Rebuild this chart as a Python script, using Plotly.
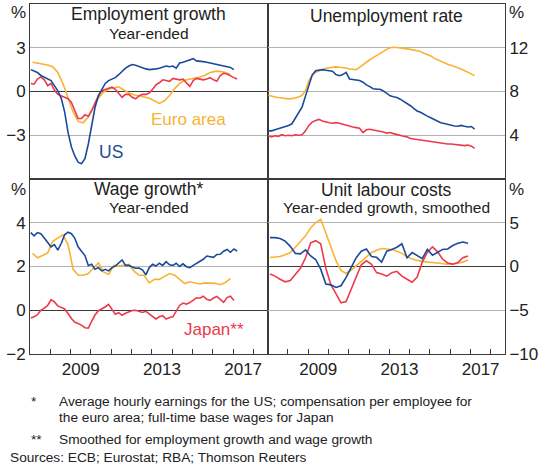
import pandas as pd
import plotly.graph_objects as go
from plotly.subplots import make_subplots

BLUE = "#1B4A9B"
ORANGE = "#F9B233"
RED = "#EC3A4C"
GRID = "#b4b4b4"
FRAME = "#3a3a3a"
FONT = "Liberation Sans, Arial, sans-serif"

# ---------------- data ----------------
# Employment growth, year-ended (%)
emp_us = [1.5, 1.4, 1.3, 1.1, 1.0, 0.9, 0.75, 0.4, 0.05, -0.45, -1.4, -2.8, -3.8, -4.4, -4.85,
          -4.95, -4.6, -3.6, -2.3, -1.1, -0.3, 0.15, 0.55, 0.75, 0.85, 0.95, 1.15, 1.4, 1.6, 1.75,
          1.85, 1.8, 1.7, 1.6, 1.55, 1.5, 1.5, 1.55, 1.6, 1.7, 1.75, 1.7, 1.75, 1.6, 1.95, 2.0,
          2.1, 2.15, 2.25, 2.1, 2.1, 2.05, 2.0, 1.95, 1.9, 1.9, 1.85, 1.8, 1.7, 1.65, 1.5]
emp_jp = [0.55, 0.5, 0.85, 1.0, 0.8, 0.4, 0.55, 0.1, -0.2, -0.3, -0.4, -0.5, -0.75, -1.35, -1.85,
          -1.85, -1.6, -1.7, -1.3, -0.8, -0.3, 0.05, 0.15, 0.2, 0.3, 0.15, -0.1, -0.4, -0.2, -0.2,
          -0.4, -0.5, -0.3, -0.2, -0.2, -0.1, 0.15, 0.45, 0.6, 0.8, 0.75, 0.7, 0.9, 0.85, 0.8, 0.85,
          0.6, 0.35, 0.75, 0.9, 0.85, 0.8, 0.85, 0.95, 0.8, 0.7, 1.1, 1.25, 1.2, 1.05, 0.95, 0.85]
emp_ea = [2.0, 1.95, 1.9, 1.82, 1.7, 1.3, 0.55, -0.4, -1.4, -2.05, -2.15, -1.75, -1.05, -0.45,
          -0.05, 0.17, 0.25, 0.32, 0.1, -0.1, -0.22, -0.28, -0.38, -0.47, -0.65, -0.82, -0.64,
          -0.28, 0.2, 0.55, 0.78, 0.85, 0.9, 1.0, 1.12, 1.3, 1.38, 1.38, 1.3, 1.17]

# Unemployment rate (%)
un_ea = [7.65, 7.55, 7.5, 7.45, 7.4, 7.35, 7.33, 7.35, 7.4, 7.5, 7.65, 8.1, 9.0, 9.5, 9.75, 9.9,
         10.02, 10.12, 10.18, 10.24, 10.25, 10.22, 10.2, 10.15, 10.05, 10.0, 10.0, 10.2, 10.45,
         10.7, 10.9, 11.1, 11.3, 11.5, 11.65, 11.85, 12.0, 12.05, 12.02, 12.0, 11.95, 11.9, 11.85,
         11.8, 11.7, 11.65, 11.5, 11.4, 11.25, 11.05, 10.9, 10.75, 10.6, 10.5, 10.4, 10.25, 10.17,
         10.05, 9.9, 9.77, 9.6, 9.45]
un_us = [4.4, 4.4, 4.5, 4.6, 4.7, 4.75, 4.9, 5.05, 5.6, 6.1, 6.6, 7.6, 8.6, 9.5, 9.9, 9.95, 10.0,
         9.95, 9.9, 9.85, 9.55, 9.45, 9.55, 9.75, 9.15, 9.1, 9.1, 9.0, 8.85, 8.6, 8.45, 8.25, 8.22,
         8.2, 8.05, 7.85, 7.6, 7.52, 7.45, 7.3, 7.12, 6.95, 6.7, 6.45, 6.22, 6.1, 5.9, 5.75, 5.6,
         5.45, 5.3, 5.15, 5.07, 4.98, 4.9, 4.85, 4.82, 4.9, 4.82, 4.75, 4.8, 4.55]
un_jp = [3.95, 3.85, 3.95, 3.9, 4.05, 3.95, 4.0, 3.95, 4.05, 4.0, 4.05, 4.4, 4.9, 5.2, 5.35, 5.45,
         5.3, 5.2, 5.15, 5.1, 5.15, 5.1, 5.0, 4.95, 4.85, 4.75, 4.7, 4.65, 4.25, 4.5, 4.55, 4.5,
         4.45, 4.4, 4.3, 4.2, 4.25, 4.15, 4.05, 4.0, 3.9, 3.85, 3.7, 3.65, 3.6, 3.6, 3.55, 3.5, 3.4,
         3.38, 3.35, 3.3, 3.25, 3.2, 3.2, 3.15, 3.1, 3.05, 3.05, 3.1, 3.0, 2.8]

# Wage growth, year-ended (%)
wage_us = [3.55, 3.4, 3.55, 3.5, 3.3, 3.1, 2.9, 3.0, 2.75, 3.05, 3.45, 3.57, 3.5, 3.3, 2.9, 2.7,
           2.5, 2.05, 2.1, 1.88, 1.95, 1.8, 1.87, 1.8, 1.95, 2.02, 2.17, 2.3, 2.05, 2.05, 1.98,
           1.92, 1.93, 1.85, 1.62, 1.95, 2.1, 2.02, 2.15, 2.05, 2.22, 2.08, 2.05, 2.15, 2.0, 2.12,
           1.99, 1.95, 2.05, 2.15, 2.22, 2.33, 2.48, 2.45, 2.42, 2.55, 2.56, 2.7, 2.78, 2.65, 2.8,
           2.7]
wage_ea = [2.6, 2.4, 2.5, 2.62, 3.15, 3.3, 3.45, 3.0, 1.87, 1.6, 1.6, 1.68, 1.95, 2.17, 1.75,
           1.64, 2.05, 2.02, 2.05, 2.1, 1.79, 1.6, 1.6, 1.25, 1.41, 1.41, 1.55, 1.68, 1.6, 1.4,
           1.22, 1.3, 1.25, 1.2, 1.25, 1.23, 1.23, 1.17, 1.27, 1.45]
wage_jp = [-0.35, -0.3, -0.2, 0.0, 0.1, 0.22, 0.48, 0.38, 0.2, 0.13, 0.06, -0.15, -0.38, -0.54,
           -0.6, -0.68, -0.8, -0.82, -0.5, -0.22, -0.02, 0.05, 0.15, 0.27, 0.05, -0.18, -0.11,
           -0.23, -0.14, -0.06, -0.01, 0.0, -0.05, -0.1, -0.05, -0.18, -0.28, -0.4, -0.3, -0.25,
           -0.4, -0.33, -0.3, -0.05, 0.22, 0.33, 0.28, 0.35, 0.48, 0.57, 0.55, 0.64, 0.5, 0.45,
           0.56, 0.63, 0.5, 0.36, 0.58, 0.64, 0.45]

# Unit labour costs, year-ended growth, smoothed (%)
ulc_us = [3.3, 3.3, 3.2, 2.9, 2.3, 1.5, 1.45, 1.9, 1.2, 0.8, -0.3, -2.0, -2.1, -2.4, -2.2, -1.25,
          -0.1, 1.0, 1.75, 2.0, 1.15, 1.05, 0.5, 1.75, 1.95, 2.2, 2.6, 1.0, 1.6, 1.2, 0.9, 1.95,
          1.3, 1.6, 1.95, 2.0, 2.4, 2.65, 2.8, 2.65]
ulc_ea = [1.03, 1.05, 1.15, 1.35, 1.6, 2.2, 2.85, 3.5, 4.4, 5.0, 5.4, 3.9, 2.4, 0.7, -0.45, -0.8,
          -0.4, 0.08, 0.65, 1.1, 1.6, 1.85, 2.05, 2.0, 1.98, 1.75, 1.5, 1.12, 0.85, 0.7, 0.58, 0.5,
          0.45, 0.38, 0.3, 0.25, 0.25, 0.35, 0.5, 0.75]
ulc_jp = [-0.85, -1.1, -1.45, -1.75, -1.6, -0.95, -0.2, 1.0, 2.7, 2.95, 2.6, -0.2, -2.1, -3.1,
          -4.15, -4.0, -2.6, -1.2, 0.2, 0.65, 0.25, -0.7, -0.85, -1.1, -0.7, -0.55, -1.1, -1.45,
          -1.8, -1.2, 0.5, 1.6, 2.25, 1.7, 0.85, 0.4, 0.27, 0.45, 1.0, 1.2]

year_ticks = ["2009-07-01", "2013-07-01", "2017-07-01"]
year_labels = ["2009", "2013", "2017"]
year_bounds = [f"{y}-01-01" for y in range(2008, 2019)]


def bimonthly(vals):
    return pd.date_range("2007-01-01", periods=len(vals), freq="2MS") + pd.Timedelta(days=14)


def quarterly(vals):
    return pd.date_range("2007-01-01", periods=len(vals), freq="QS") + pd.Timedelta(days=45)


fig = make_subplots(rows=2, cols=2, horizontal_spacing=0, vertical_spacing=0)

panels = [
    (1, 1, [(emp_ea, quarterly, ORANGE), (emp_jp, bimonthly, RED), (emp_us, bimonthly, BLUE)]),
    (1, 2, [(un_ea, bimonthly, ORANGE), (un_jp, bimonthly, RED), (un_us, bimonthly, BLUE)]),
    (2, 1, [(wage_ea, quarterly, ORANGE), (wage_jp, bimonthly, RED), (wage_us, bimonthly, BLUE)]),
    (2, 2, [(ulc_ea, quarterly, ORANGE), (ulc_jp, quarterly, RED), (ulc_us, quarterly, BLUE)]),
]
for r, c, series in panels:
    for vals, freq, col in series:
        fig.add_trace(go.Scatter(x=freq(vals), y=vals, mode="lines",
                                 line=dict(color=col, width=1.6), showlegend=False,
                                 hoverinfo="skip"), row=r, col=c)

xcommon = dict(type="date", range=["2007-01-01", "2018-09-12"], showline=True, mirror=True,
               linecolor=FRAME, linewidth=1, showgrid=False, zeroline=False, ticks="",
               tickmode="array", tickvals=year_ticks, ticktext=year_labels,
               tickfont=dict(size=17, color="#222", family=FONT))
for r in (1, 2):
    for c in (1, 2):
        xa = dict(xcommon)
        if r == 1:
            xa["showticklabels"] = False
        else:
            xa["minor"] = dict(ticks="inside", tickmode="array", tickvals=year_bounds,
                               ticklen=5, tickcolor=FRAME, tickwidth=1, showgrid=False)
        fig.update_xaxes(row=r, col=c, **xa)

ycommon = dict(showline=True, mirror=True, linecolor=FRAME, linewidth=1, showgrid=True,
               gridcolor=GRID, gridwidth=1, ticks="", zerolinecolor=FRAME, zerolinewidth=1,
               tickfont=dict(size=17, color="#222", family=FONT))
fig.update_yaxes(row=1, col=1, range=[-6, 6], tickvals=[-3, 0, 3], zeroline=True, side="left", **ycommon)
fig.update_yaxes(row=1, col=2, range=[0, 16], tickvals=[4, 8, 12], zeroline=False, side="right", **ycommon)
fig.update_yaxes(row=2, col=1, range=[-2, 6], tickvals=[-2, 0, 2, 4], zeroline=True, side="left", **ycommon)
fig.update_yaxes(row=2, col=2, range=[-10, 10], tickvals=[-10, -5, 0, 5], zeroline=True, side="right", **ycommon)

W, H = 542, 467
L, R, T, B = 30, 37, 4, 113
PW, PH = W - L - R, H - T - B


def px(x):
    return (x - L) / PW


def py(y):
    return (H - B - y) / PH


def note(text, x, y, size, color="#222", xanchor="center"):
    fig.add_annotation(text=text, x=px(x), y=py(y), xref="paper", yref="paper",
                       showarrow=False, xanchor=xanchor, yanchor="middle",
                       font=dict(size=size, color=color, family=FONT))


# panel titles
note("Employment growth", 148.5, 14, 17.5)
note("Year-ended", 148.5, 33, 15.5)
note("Unemployment rate", 386, 16, 17.5)
note("Wage growth*", 148.5, 189, 17.5)
note("Year-ended", 148.5, 207, 15.5)
note("Unit labour costs", 386, 189.5, 17.5)
note("Year-ended growth, smoothed", 386, 207, 15.5)

# unit labels
for x, y in [(18, 13), (516, 13), (18, 189), (516, 189)]:
    note("%", x, y, 17)

# series labels
note("Euro area", 188, 120, 17, ORANGE)
note("US", 110.5, 152, 17.5, BLUE)
note("Japan**", 214, 329, 17, RED)

# footnotes
note("*", 29, 401, 13.7, xanchor="left")
note("Average hourly earnings for the US; compensation per employee for", 57, 401, 13.7, xanchor="left")
note("the euro area; full-time base wages for Japan", 57, 417, 13.7, xanchor="left")
note("**", 29, 439, 13.7, xanchor="left")
note("Smoothed for employment growth and wage growth", 57, 439, 13.7, xanchor="left")
note("Sources: ECB; Eurostat; RBA; Thomson Reuters", 8, 457, 13.7, xanchor="left")

fig.update_layout(width=W, height=H, autosize=False,
                  margin=dict(l=L, r=R, t=T, b=B, pad=0),
                  paper_bgcolor="white", plot_bgcolor="white",
                  font=dict(family=FONT, color="#222"))

fig.write_html("out.html", config={"displayModeBar": False},
               post_script="document.body.style.margin='0';document.body.style.padding='0';")
